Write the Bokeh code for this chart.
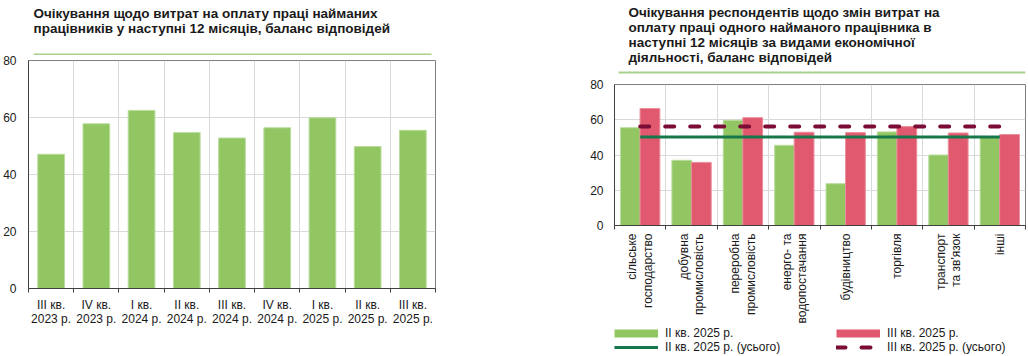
import math
from bokeh.plotting import figure
from bokeh.layouts import row, column
from bokeh.models import Range1d, FixedTicker, Legend, LegendItem
from bokeh.embed import file_html
from bokeh.resources import INLINE
from bokeh.core.properties import value

# ---------------- data ----------------
left_title = ["Очікування щодо витрат на оплату праці найманих",
              "працівників у наступні 12 місяців, баланс відповідей"]
quarters = ["III кв.\n2023 р.", "IV кв.\n2023 р.", "I кв.\n2024 р.", "II кв.\n2024 р.",
            "III кв.\n2024 р.", "IV кв.\n2024 р.", "I кв.\n2025 р.", "II кв.\n2025 р.",
            "III кв.\n2025 р."]
balance = [47.1, 57.8, 62.5, 54.7, 52.8, 56.4, 59.9, 49.8, 55.5]

right_title = ["Очікування респондентів щодо змін витрат на",
               "оплату праці одного найманого працівника в",
               "наступні 12 місяців за видами економічної",
               "діяльності, баланс відповідей"]
sectors = ["сільське\nгосподарство", "добувна\nпромисловість", "переробна\nпромисловість",
           "енерго- та\nводопостачання", "будівництво", "торгівля",
           "транспорт\nта зв'язок", "інші"]
q2_2025 = [55.5, 37.0, 59.7, 45.5, 23.7, 53.1, 40.0, 50.5]
q3_2025 = [66.4, 35.8, 61.2, 52.9, 52.7, 56.1, 52.5, 51.6]
q2_total = 50.2
q3_total = 56.1
series_labels = ["II кв. 2025 р.", "III кв. 2025 р.",
                 "II кв. 2025 р. (усього)", "III кв. 2025 р. (усього)"]
y_ticks = [0, 20, 40, 60, 80]

# ---------------- style ----------------
FONT = "Liberation Sans"
GREEN = "#92c663"
GREEN_EDGE = "#b9dc9e"
RED = "#e0596f"
RED_EDGE = "#ec8d9c"
DGREEN = "#16784a"
MAROON = "#7a0c36"
RULE = "#a9d18e"
GRID = "#d9d9d9"
TXT = "#1a1a1a"


def strip(width, height, bl, br):
    # frame aligned with the chart frame (bl .. width-br); data units = pixels
    f = figure(width=width, height=height, x_range=Range1d(bl, width - br),
               y_range=Range1d(height, 0),
               toolbar_location=None, output_backend="svg",
               min_border_left=bl, min_border_right=br, min_border_top=0, min_border_bottom=0,
               x_axis_location=None, y_axis_location=None)
    f.grid.visible = False
    f.outline_line_color = None
    return f


def title_strip(width, height, lines, x0, y0, dy, rx0, rx1, ry, bl, br):
    f = strip(width, height, bl, br)
    f.text(x=[x0] * len(lines), y=[y0 + i * dy for i in range(len(lines))], text=lines,
           text_font=value(FONT), text_font_size="13.5px", text_font_style="bold",
           text_baseline="alphabetic", text_align="left", text_color=TXT)
    f.segment(x0=[rx0], y0=[ry], x1=[rx1], y1=[ry], line_color=RULE, line_width=2)
    return f


def style_chart(p, n):
    p.grid.grid_line_color = GRID
    p.xgrid.ticker = FixedTicker(ticks=[i + 0.5 for i in range(n - 1)])
    p.ygrid.ticker = FixedTicker(ticks=y_ticks)
    p.outline_line_color = "#7f7f7f"
    p.outline_line_width = 1
    for ax in (p.xaxis, p.yaxis):
        ax.axis_line_color = "#404040"
        ax.major_label_text_font = FONT
        ax.major_label_text_font_size = "12px"
        ax.major_label_text_color = TXT
        ax.major_tick_in = 0
    p.yaxis.ticker = FixedTicker(ticks=y_ticks)
    p.yaxis.major_tick_out = 0
    p.yaxis.minor_tick_out = 0
    p.xaxis.ticker = FixedTicker(ticks=list(range(n)),
                                 minor_ticks=[i - 0.5 for i in range(n + 1)])
    p.xaxis.major_tick_out = 0
    p.xaxis.minor_tick_in = 0
    p.xaxis.minor_tick_out = 4
    p.xaxis.minor_tick_line_color = "#404040"


# ---------------- left chart ----------------
nL = len(quarters)
xL = list(range(nL))
t1 = title_strip(560, 55, left_title, 32, 13, 15, 32, 431, 54, 27, 125)
p1 = figure(width=560, height=301, x_range=Range1d(-0.5, nL - 0.5), y_range=Range1d(0, 80),
            toolbar_location=None, output_backend="svg",
            min_border_left=27, min_border_right=125, min_border_top=5, min_border_bottom=68)
p1.vbar(x=xL, top=balance, width=0.59, fill_color=GREEN, line_color=GREEN_EDGE, line_width=1)
style_chart(p1, nL)
p1.xaxis.major_label_overrides = {i: quarters[i] for i in range(nL)}
p1.xaxis.major_label_standoff = 5
p1.xaxis.major_label_text_line_height = 1.0
p1.yaxis.major_label_standoff = 12

# ---------------- right chart ----------------
nR = len(sectors)
xR = list(range(nR))
t2 = title_strip(468, 76, right_title, 68, 12, 15, 58, 465, 72, 54, 3)
p2 = figure(width=468, height=250, x_range=Range1d(-0.5, nR - 0.5), y_range=Range1d(0, 80),
            toolbar_location=None, output_backend="svg",
            min_border_left=54, min_border_right=3, min_border_top=8, min_border_bottom=101)
p2.vbar(x=[x - 0.19 for x in xR], top=q2_2025, width=0.385, fill_color=GREEN,
        line_color=GREEN_EDGE, line_width=1)
p2.vbar(x=[x + 0.19 for x in xR], top=q3_2025, width=0.385, fill_color=RED,
        line_color=RED_EDGE, line_width=1)
p2.line(x=[xR[0], xR[-1]], y=[q2_total, q2_total], line_color=DGREEN, line_width=3)
p2.line(x=[xR[0], xR[-1]], y=[q3_total, q3_total], line_color=MAROON, line_width=4,
        line_dash="9 16", line_cap="round")
style_chart(p2, nR)
p2.xaxis.major_label_overrides = {i: sectors[i] for i in range(nR)}
p2.xaxis.major_label_orientation = math.pi / 2
p2.xaxis.major_label_standoff = 4
p2.xaxis.major_label_text_line_height = 1.1
p2.yaxis.major_label_standoff = 11

# ---------------- legend strip under the right chart ----------------
lg = strip(468, 30, 54, 3)
hx, hy = [0, 1], [-50, -50]   # proxies drawn outside the visible range; only their legend swatches show
k_g = lg.line(x=hx, y=hy, line_color=GREEN, line_width=8)
k_r = lg.line(x=hx, y=hy, line_color=RED, line_width=8)
k_gt = lg.line(x=hx, y=hy, line_color=DGREEN, line_width=3)
k_rt = lg.line(x=hx, y=hy, line_color=MAROON, line_width=4, line_dash="9 16", line_cap="round")
legend = Legend(items=[LegendItem(label=series_labels[0], renderers=[k_g]),
                       LegendItem(label=series_labels[1], renderers=[k_r]),
                       LegendItem(label=series_labels[2], renderers=[k_gt]),
                       LegendItem(label=series_labels[3], renderers=[k_rt])],
                orientation="horizontal", ncols=2, location=(0, 2),
                padding=0, margin=0, spacing=0, border_line_color=None,
                background_fill_alpha=0, glyph_width=44, glyph_height=14,
                label_height=14, label_width=171, label_standoff=7,
                label_text_font=FONT, label_text_font_size="12px", label_text_color=TXT)
lg.add_layout(legend, "center")

layout = row(column(t1, p1), column(t2, p2, lg))
open("out.html", "w").write(file_html(layout, INLINE))
